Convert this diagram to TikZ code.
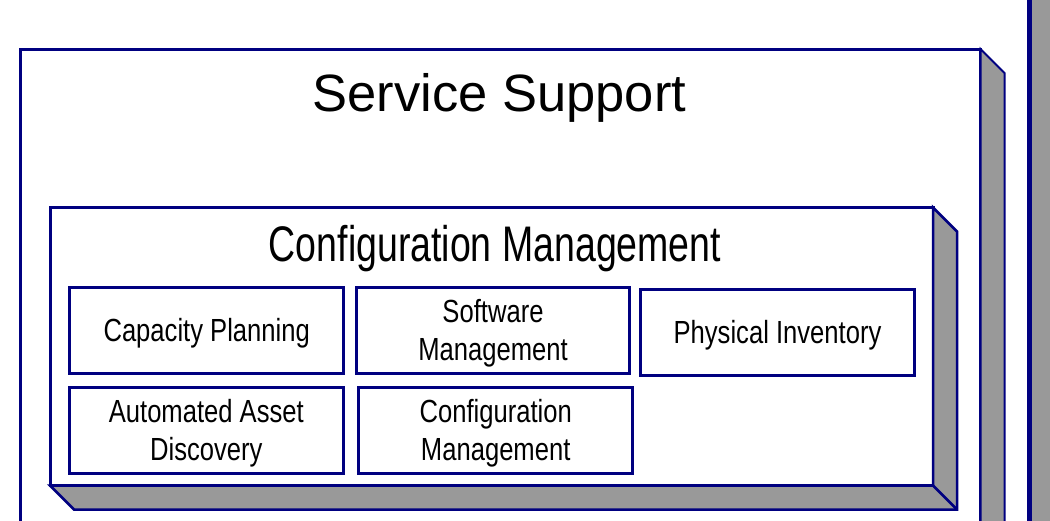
\documentclass[tikz,border=0pt]{standalone}
\usepackage{fontspec}
\setmainfont{Liberation Sans}
\newfontfamily\widefont{Liberation Sans}
\newfontfamily\narrowfont[FakeStretch=0.75]{Liberation Sans}
\newfontfamily\itemfont[FakeStretch=0.8]{Liberation Sans}
\definecolor{boxline}{RGB}{0,0,128}
\definecolor{boxside}{RGB}{153,153,153}

\begin{document}
\begin{tikzpicture}[x=1pt,y=-1pt,
	panel/.style={draw=boxline,line width=3pt,fill=white,inner sep=0pt,outer sep=0pt,anchor=north west},
	side/.style={draw=boxline,line width=2.5pt,fill=boxside},
	item/.style={panel,anchor=center,align=center,minimum width=273.5pt,minimum height=86pt,
		text depth=0pt,font=\itemfont\fontsize{32}{38}\selectfont}]
	\useasboundingbox (0,0) rectangle (1050,520);
	\clip (0,0) rectangle (1050,520);
	\draw[side,line width=5.5pt] (1029.5,-20) rectangle (1100,560);
	\node[panel,minimum width=960pt,minimum height=540pt] (support) at (20.5,49) {};
	\draw[side,line width=2pt] (support.north east) -- ([shift={(24,24)}]support.north east)
		-- ([shift={(24,24)}]support.south east) -- ([shift={(24,24)}]support.south west)
		-- (support.south west) -- (support.south east) -- cycle;
	\node[panel,minimum width=883pt,minimum height=278pt] (config) at (50,207.5) {};
	\draw[side] (config.north east) -- ([shift={(24,24)}]config.north east)
		-- ([shift={(24,24)}]config.south east) -- ([shift={(24,24)}]config.south west)
		-- (config.south west) -- (config.south east) -- cycle;
	\draw[side] (config.south east) -- ([shift={(24,24)}]config.south east);
	\node[anchor=base,font=\widefont\fontsize{52.5}{60}\selectfont] (supporttitle) at (499.5,111) {Service Support};
	\node[anchor=base,font=\narrowfont\fontsize{50}{58}\selectfont] (configtitle) at (495,261) {Configuration Management};
	\foreach \X/\Y/\N/\T in {206.7/330/cap/Capacity Planning, 493/330/soft/{Software\\Management},
		777.5/332/phys/Physical Inventory, 206.3/430/auto/{Automated Asset\\Discovery},
		495.7/430/conf/{Configuration\\Management}}
	{\node[item] (\N) at (\X,\Y) {\T};}
\end{tikzpicture}
\end{document}
